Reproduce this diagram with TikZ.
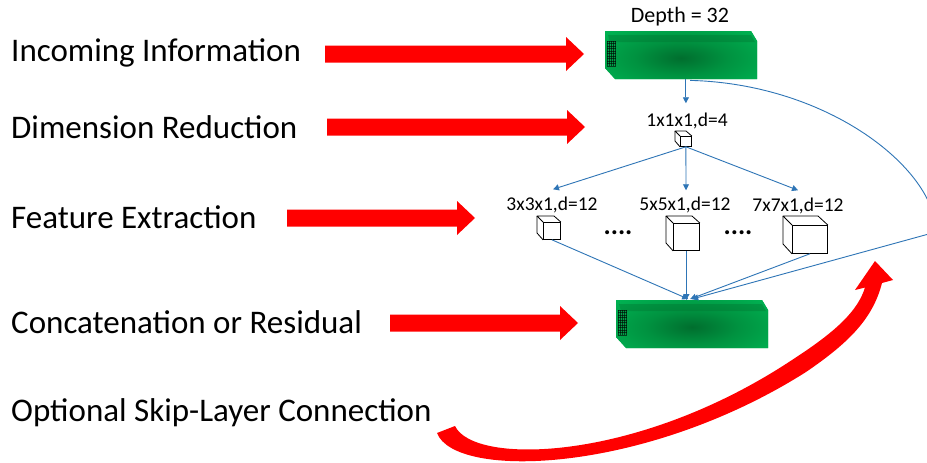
\documentclass[tikz,border=0pt]{standalone}
\usepackage{fontspec}
\setmainfont{Carlito}
\usetikzlibrary{arrows.meta,calc}

\definecolor{arrowred}{RGB}{255,0,0}
\definecolor{lineblue}{RGB}{46,117,182}
\definecolor{slabgreen}{RGB}{0,182,84}
\definecolor{slabmid}{RGB}{0,146,64}
\definecolor{slabdark}{RGB}{0,110,46}

\pgfdeclareradialshading{slabglow}{\pgfpoint{0bp}{0bp}}{%
  color(0bp)=(slabdark); color(10bp)=(slabmid); color(24bp)=(slabgreen);
  color(50bp)=(slabgreen)}

% straight block arrow: #1 tail x, #2 tip x, #3 centre y
\newcommand{\redarrow}[3]{%
  \fill[arrowred] (#1,#3-8.5) -- (#2-18,#3-8.5) -- (#2-18,#3-17) -- (#2,#3)
    -- (#2-18,#3+17) -- (#2-18,#3+8.5) -- (#1,#3+8.5) -- cycle;}

% green feature-map slab: #1 name, #2/#3 top-left corner
\newcommand{\slab}[3]{%
  \begin{scope}[shift={(#2,#3)}]
    \begin{scope}
      \path[clip] (0,0) -- (146,0) -- (152,10) -- (152,48) -- (10,48) -- (0,37) -- cycle;
      \fill[slabgreen] (-5,-5) rectangle (160,55);
      \shade[shading=slabglow] (76,27) ellipse (115 and 42);
      \fill[slabdark, opacity=.35] (3,4) -- (146,4) -- (150,11) -- (5,11) -- cycle;
    \end{scope}
    \foreach \i in {0,...,4}
      \draw[black, opacity=.6, line width=.35pt] (2.5+\i*2,10) -- (2.5+\i*2,35);
    \foreach \j in {0,...,10}
      \draw[black, opacity=.6, line width=.35pt] (2,10+\j*2.5) -- (11,10+\j*2.5);
  \end{scope}
  \node[minimum width=152pt, minimum height=48pt, inner sep=0pt, anchor=north west]
    (#1) at (#2,#3) {};}

% wire-frame block: #1 name, #2/#3 front top-left, #4 width, #5 height, #6 depth
\newcommand{\block}[6]{%
  \node[draw=black, line width=.8pt, minimum width=#4pt, minimum height=#5pt,
        inner sep=0pt, anchor=north west] (#1) at (#2,#3) {};
  \draw[line width=.8pt, line join=round] (#1.north west) -- ++(-#6,-#6) -- ++(#4,0)
    -- (#1.north east);
  \draw[line width=.8pt, line join=round] (#1.north west) ++(-#6,-#6) -- ++(0,#5)
    -- (#1.south west);}

\begin{document}
\begin{tikzpicture}[x=1pt, y=-1pt,
  stage/.style={font=\fontsize{33}{36}\selectfont, anchor=base west, inner sep=0pt},
  dims/.style={font=\fontsize{19.5}{22}\selectfont, anchor=base, inner sep=0pt},
  gap/.style={font=\fontsize{27}{30}\selectfont\bfseries, anchor=base, inner sep=0pt},
  conn/.style={draw=lineblue, line width=.9pt, -{Triangle[length=6pt, width=6pt]}}]
\useasboundingbox (0,0) rectangle (927,463);
\fill[white] (0,0) rectangle (927,463);

% stage names
\node[stage] (s1) at (11,61)  {Incoming Information};
\node[stage] (s2) at (11,138) {Dimension Reduction};
\node[stage] (s3) at (11,228) {Feature Extraction};
\node[stage] (s4) at (11,333) {Concatenation or Residual};
\node[stage] (s5) at (11,421) {Optional Skip-Layer Connection};

% block arrows pointing at the network
\redarrow{325}{584}{54}
\redarrow{327}{585}{127}
\redarrow{287}{475}{218}
\redarrow{390}{578}{323}

% feature maps
\slab{top}{605}{31}
\slab{bot}{616}{300}
\node[dims, font=\fontsize{22}{24}\selectfont] (depth) at (680,23) {Depth = 32};

% reduction and extraction filters
\block{c1}{680}{136}{11}{10}{5}
\node[dims] (l1) at (687,126) {1x1x1,d=4};
\block{ca}{543}{222}{17}{17}{6}
\block{cb}{673}{223}{26}{27}{7}
\block{cc}{792}{225}{35}{28}{9}
\node[dims] (la) at (552,210) {3x3x1,d=12};
\node[dims] (lb) at (685,210) {5x5x1,d=12};
\node[dims] (lc) at (798,211) {7x7x1,d=12};
\node[gap] (g1) at (618,234) {....};
\node[gap] (g2) at (738,234) {....};

% data flow
\draw[conn] (top.south -| c1.south) -- ($(l1.north -| c1.south)+(0,-9)$);
\draw[conn] (c1.south) -- ($(la.north)+(1,-7)$);
\draw[conn] (c1.south) -- ($(lb.north)+(1,-6)$);
\draw[conn] (c1.south) -- ($(lc.north)+(0,-7)$);
\draw[conn] (ca.south) -- ($(bot.north)+(-4,-1)$);
\draw[conn] (cb.south) -- (cb.south |- bot.north);
\draw[conn] (cc.south) -- ($(bot.north)+(-2,-1)$);

% skip-layer connection leaving the picture on the right
\coordinate (skipturn) at (936,232);
\begin{scope}
  \clip (0,0) rectangle (927,463);
  \draw[conn] ($(top.south)+(9,1)$) .. controls (830,84) and (936,170) .. (skipturn)
    -- ($(bot.north)+(0,-1)$);
\end{scope}

% curved skip arrow
\fill[arrowred] (437,433) .. controls (455,480) and (645,474) .. (806,372)
  .. controls (850,342) and (873,318) .. (882,283)
  -- (893,280) -- (875,261) -- (855,290) -- (865,287.5)
  .. controls (858,310) and (838,330) .. (795,358)
  .. controls (640,462) and (474,466) .. (455,426) -- cycle;
\end{tikzpicture}
\end{document}
